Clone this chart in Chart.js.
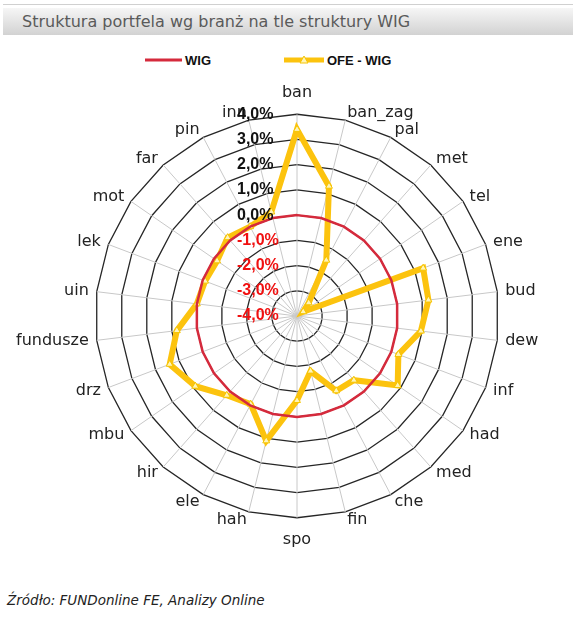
<!DOCTYPE html>
<html>
<head>
<meta charset="utf-8">
<script src="https://cdn.jsdelivr.net/npm/chart.js@4/dist/chart.umd.min.js"></script>
<style>
  body { margin: 0; background: #fff; width: 577px; height: 624px; position: relative; overflow: hidden; }
  .topline { position: absolute; left: 3px; top: 4px; width: 570px; height: 1px; background: #d0d0d0; }
  .title {
    position: absolute; left: 3px; top: 8px; width: 570px; height: 27px;
    background: linear-gradient(#f6f6f6, #d2d2d2);
    font: 16px "DejaVu Sans", sans-serif; color: #5a5a5a;
    line-height: 27px; padding-left: 19px; box-sizing: border-box;
  }
  .legend {
    position: absolute; left: 145px; top: 52px; height: 16px;
    display: flex; align-items: center;
    font: bold 13px "Liberation Sans", Arial, sans-serif; color: #111;
  }
  .legend .item { display: flex; align-items: center; }
  .legend .item + .item { margin-left: 73px; }
  .legend canvas { margin-right: 3px; }
  .chart-box { position: absolute; left: 0; top: 82px; width: 577px; height: 468px; }
  .source {
    position: absolute; left: 7px; top: 592px;
    font: italic 13.5px "DejaVu Sans", sans-serif; color: #222;
  }
</style>
</head>
<body>
<div class="topline"></div>
<div class="title">Struktura portfela wg branż na tle struktury WIG</div>
<div class="legend js-legend"></div>
<div class="chart-box"><canvas class="js-chart"></canvas></div>
<div class="source">Źródło: FUNDonline FE, Analizy Online</div>

<script>
const sectors = ['ban', 'ban_zag', 'pal', 'met', 'tel', 'ene', 'bud', 'dew', 'inf', 'had',
  'med', 'che', 'fin', 'spo', 'hah', 'ele', 'hir', 'mbu', 'drz', 'fundusze',
  'uin', 'lek', 'mot', 'far', 'pin', 'inn'];

const wig = [0, 0, 0, 0, 0, 0, 0, 0, 0, 0, 0, 0, 0, 0, 0, 0, 0, 0, 0, 0, 0, 0, 0, 0, 0, 0];

const ofeMinusWig = [3.4, 1.3, -1.5, -3.3, -3.7, 1.35, 1.25, 0.95, 0.3, 0.85,
  -0.6, -0.65, -1.75, -0.65, 1.1, -0.05, 0.2, 0.9, 1.4, 0.8,
  0, -0.1, -0.15, 0.15, 0, 0.25];

const tickValues = [-4, -3, -2, -1, 0, 1, 2, 3, 4];

const seriesNames = ['WIG', 'OFE - WIG'];

const RED = '#d52a3c';
const YELLOW = '#fcc30e';
const MARKER_FILL = '#fff4b8';
const MARKER_LINE = '#f5c400';
const LABEL_FONT = '16px "DejaVu Sans", sans-serif';
const LABEL_PAD = 8;

// small canvases used as legend symbols (line, line + triangle)
function legendIcon(color, width, lineWidth, marker) {
  const c = document.createElement('canvas');
  c.width = width;
  c.height = 14;
  const g = c.getContext('2d');
  g.strokeStyle = color;
  g.lineWidth = lineWidth;
  g.beginPath();
  g.moveTo(0, 7);
  g.lineTo(width, 7);
  g.stroke();
  if (marker) {
    const m = width / 2;
    g.fillStyle = MARKER_FILL;
    g.strokeStyle = MARKER_LINE;
    g.lineWidth = 1;
    g.beginPath();
    g.moveTo(m, 3);
    g.lineTo(m + 4, 10);
    g.lineTo(m - 4, 10);
    g.closePath();
    g.fill();
    g.stroke();
  }
  return c;
}

const legendEl = document.querySelector('.js-legend');
[legendIcon(RED, 37, 3, false), legendIcon(YELLOW, 40, 5, true)].forEach((icon, i) => {
  const item = document.createElement('span');
  item.className = 'item';
  item.appendChild(icon);
  item.appendChild(document.createTextNode(seriesNames[i]));
  legendEl.appendChild(item);
});

// category labels centred vertically on their spoke, tick labels left of the
// vertical axis (black for >= 0, red below)
const labelPlugin = {
  id: 'labels',
  afterDraw(chart) {
    const scale = chart.scales.r;
    const ctx = chart.ctx;
    ctx.save();

    ctx.font = LABEL_FONT;
    ctx.fillStyle = '#222';
    ctx.textBaseline = 'middle';
    const n = sectors.length;
    sectors.forEach((name, i) => {
      const p = scale.getPointPosition(i, scale.drawingArea + LABEL_PAD);
      const deg = Math.round(i * 360 / n);
      let y = p.y;
      if (deg === 0) {
        ctx.textAlign = 'center';
        y -= 13;
      } else if (deg === 180) {
        ctx.textAlign = 'center';
        y += 14;
      } else {
        ctx.textAlign = deg < 180 ? 'left' : 'right';
      }
      ctx.fillText(name, p.x, y);
    });

    ctx.font = 'bold 16px "Liberation Sans", Arial, sans-serif';
    ctx.textAlign = 'left';
    tickValues.forEach(v => {
      const y = scale.yCenter - scale.getDistanceFromCenterForValue(v);
      ctx.fillStyle = v >= 0 ? '#111' : '#f01010';
      ctx.fillText(v.toFixed(1).replace('.', ',') + '%', scale.xCenter - 60, y);
    });
    ctx.restore();
  },
};

const ctx = document.querySelector('.js-chart').getContext('2d');

const myChart = new Chart(ctx, {
  type: 'radar',
  data: {
    labels: sectors,
    datasets: [
      {
        label: seriesNames[0],
        data: wig,
        borderColor: RED,
        backgroundColor: RED,
        borderWidth: 2.5,
        pointRadius: 0,
        fill: false,
      },
      {
        label: seriesNames[1],
        data: ofeMinusWig,
        borderColor: YELLOW,
        backgroundColor: MARKER_FILL,
        borderWidth: 6,
        pointStyle: 'triangle',
        pointRadius: 4,
        pointBorderColor: MARKER_LINE,
        pointBackgroundColor: MARKER_FILL,
        pointBorderWidth: 1,
        fill: false,
      },
    ],
  },
  options: {
    responsive: true,
    maintainAspectRatio: false,
    animation: false,
    layout: { padding: { left: 0, right: 14, top: 0, bottom: 0 } },
    plugins: {
      legend: { display: false },
      tooltip: { enabled: false },
    },
    scales: {
      r: {
        min: -4,
        max: 4,
        ticks: { stepSize: 1, display: false },
        grid: { color: '#262626', lineWidth: 1.3 },
        angleLines: { color: '#c8c8c8', lineWidth: 1 },
        pointLabels: {
          // kept for layout fitting; the visible labels come from the plugin
          color: 'rgba(0,0,0,0)',
          padding: LABEL_PAD,
          font: { family: '"DejaVu Sans", sans-serif', size: 16 },
        },
      },
    },
  },
  plugins: [labelPlugin],
});
</script>
</body>
</html>
